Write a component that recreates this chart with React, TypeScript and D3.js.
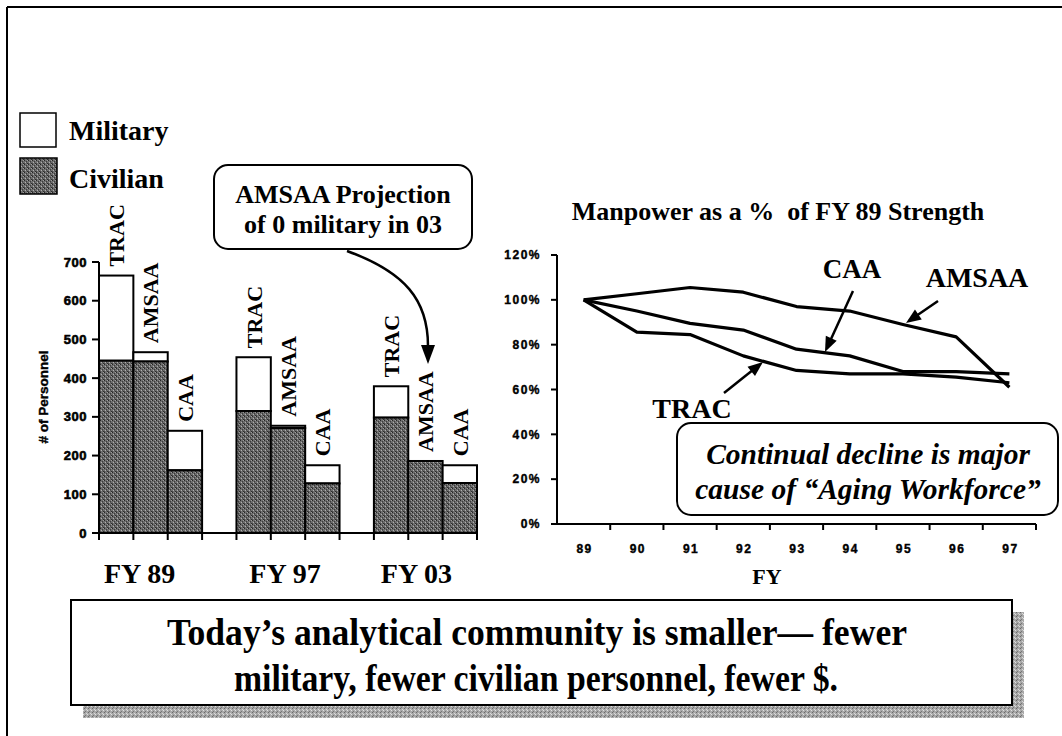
import React from "react";
import * as d3 from "d3";

// ---------- data ----------
const groups = ["FY 89", "FY 97", "FY 03"];
const orgs = ["TRAC", "AMSAA", "CAA"];
const civTRAC = [445, 315, 298];
const civAMSAA = [443, 271, 186];
const civCAA = [162, 128, 129];
const milTRAC = [220, 139, 81];
const milAMSAA = [24, 6, 0];
const milCAA = [102, 47, 46];
const personnelTicks = [0, 100, 200, 300, 400, 500, 600, 700];

const years = ["89", "90", "91", "92", "93", "94", "95", "96", "97"];
const amsaaPct = [100, 102.7, 105.5, 103.4, 97, 95, 89, 83.5, 61];
const caaPct = [100, 95, 89.5, 86.5, 78, 75, 68, 68, 67];
const tracPct = [100, 85.6, 84.5, 75, 68.5, 67, 67, 65.5, 63];
const pctTicks = [0, 20, 40, 60, 80, 100, 120];

const SERIF = "'Liberation Serif', 'Times New Roman', serif";
const SANS = "'Liberation Sans', Arial, sans-serif";

export default function App() {
  // left bar chart
  const slots = d3.range(11);
  const xb = d3.scaleBand<number>().domain(slots).range([99, 477]).padding(0);
  const yb = d3.scaleLinear().domain([0, 700]).range([533, 262]);
  const civ = [civTRAC, civAMSAA, civCAA];
  const mil = [milTRAC, milAMSAA, milCAA];
  const bars: { slot: number; c: number; m: number; org: string }[] = [];
  groups.forEach((g, gi) => {
    orgs.forEach((o, oi) => {
      bars.push({ slot: gi * 4 + oi, c: civ[oi][gi], m: mil[oi][gi], org: o });
    });
  });
  const groupLabelShift = [-11, -3, -9];

  // right line chart
  const xl = d3.scaleBand<string>().domain(years).range([557, 1036]).padding(0);
  const yl = d3.scaleLinear().domain([0, 120]).range([524, 255]);
  const line = d3
    .line<number>()
    .x((_, i) => (xl(years[i]) as number) + xl.bandwidth() / 2)
    .y((v) => yl(v))
    .curve(d3.curveLinear);

  const arrowHead = (x1: number, y1: number, x2: number, y2: number, len = 15, w = 6) => {
    const a = Math.atan2(y2 - y1, x2 - x1);
    const bx = x2 - len * Math.cos(a);
    const by = y2 - len * Math.sin(a);
    const px = -Math.sin(a) * w;
    const py = Math.cos(a) * w;
    return `M${x2},${y2}L${bx + px},${by + py}L${bx - px},${by - py}Z`;
  };
  const Arrow = ({ x1, y1, x2, y2 }: any) => (
    <g>
      <line x1={x1} y1={y1} x2={x2 - (x2 - x1) * 0.1} y2={y2 - (y2 - y1) * 0.1} stroke="#000" strokeWidth={2.5} />
      <path d={arrowHead(x1, y1, x2, y2)} fill="#000" />
    </g>
  );

  return (
    <svg
      width={1062}
      height={736}
      style={{ position: "absolute", left: 0, top: 0, background: "#fff" }}
    >
      <defs>
        <pattern id="civ" width="4" height="4" patternUnits="userSpaceOnUse">
          <rect width="4" height="4" fill="#6e6e6e" />
          <rect x="0" y="0" width="1" height="1" fill="#262626" />
          <rect x="2" y="1" width="1" height="1" fill="#3c3c3c" />
          <rect x="1" y="2" width="1" height="1" fill="#b0b0b0" />
          <rect x="3" y="3" width="1" height="1" fill="#2c2c2c" />
          <rect x="3" y="0" width="1" height="1" fill="#9c9c9c" />
          <rect x="0" y="3" width="1" height="1" fill="#4a4a4a" />
          <rect x="2" y="2" width="1" height="1" fill="#525252" />
        </pattern>
        <pattern id="shadow" width="4" height="4" patternUnits="userSpaceOnUse">
          <rect width="4" height="4" fill="#a8a8a8" />
          <rect x="0" y="0" width="1" height="1" fill="#6a6a6a" />
          <rect x="2" y="1" width="1" height="1" fill="#d8d8d8" />
          <rect x="1" y="3" width="1" height="1" fill="#777" />
          <rect x="3" y="2" width="1" height="1" fill="#e0e0e0" />
        </pattern>
      </defs>

      {/* slide frame */}
      <line x1={7} y1={7} x2={1062} y2={7} stroke="#000" strokeWidth={2} />
      <line x1={7} y1={7} x2={7} y2={736} stroke="#000" strokeWidth={2} />

      {/* legend */}
      <rect x={20} y={113} width={36} height={34} fill="#fff" stroke="#000" strokeWidth={1.5} />
      <text x={69} y={140} fontFamily={SERIF} fontWeight="bold" fontSize={28}>Military</text>
      <rect x={20} y={158} width={37} height={36} fill="url(#civ)" stroke="#000" strokeWidth={1.5} />
      <text x={69} y={188} fontFamily={SERIF} fontWeight="bold" fontSize={28}>Civilian</text>

      {/* left chart bars */}
      {bars.map((b, i) => {
        const x = xb(b.slot) as number;
        const w = xb.bandwidth();
        const yc = yb(b.c);
        const yt = yb(b.c + b.m);
        return (
          <g key={i}>
            {b.m > 0 && (
              <rect x={x} y={yt} width={w} height={yc - yt} fill="#fff" stroke="#000" strokeWidth={2} />
            )}
            <rect x={x} y={yc} width={w} height={yb(0) - yc} fill="url(#civ)" stroke="#000" strokeWidth={2} />
            <text
              transform={`translate(${x + w / 2},${yt - 9}) rotate(-90)`}
              dy="0.36em"
              fontFamily={SERIF}
              fontWeight="bold"
              fontSize={22}
            >
              {b.org}
            </text>
          </g>
        );
      })}
      {/* left axes */}
      <line x1={99} y1={262} x2={99} y2={533} stroke="#000" strokeWidth={2} />
      <line x1={99} y1={533} x2={477} y2={533} stroke="#000" strokeWidth={2} />
      {personnelTicks.map((t) => (
        <g key={t}>
          <line x1={92} x2={99} y1={yb(t)} y2={yb(t)} stroke="#000" strokeWidth={2} />
          <text x={87} y={yb(t)} dy="0.35em" textAnchor="end" fontFamily={SANS} fontWeight="bold" fontSize={13} letterSpacing={0.5} stroke="#000" strokeWidth={0.6}>
            {t}
          </text>
        </g>
      ))}
      {slots.concat([11]).map((s) => {
        const x = 99 + s * xb.bandwidth();
        return <line key={s} x1={x} x2={x} y1={533} y2={540} stroke="#000" strokeWidth={2} />;
      })}
      <text
        transform="translate(43,397) rotate(-90)"
        textAnchor="middle"
        dy="0.35em"
        fontFamily={SANS}
        fontWeight="bold"
        fontSize={13.5}
        stroke="#000"
        strokeWidth={0.4}
      >
        # of Personnel
      </text>
      {groups.map((g, gi) => {
        const cx = (xb(gi * 4) as number) + 1.5 * xb.bandwidth() + groupLabelShift[gi];
        return (
          <text key={g} x={cx} y={583} textAnchor="middle" fontFamily={SERIF} fontWeight="bold" fontSize={28}>
            {g}
          </text>
        );
      })}

      {/* callout top */}
      <rect x={214} y={165} width={258} height={84} rx={14} fill="#fff" stroke="#000" strokeWidth={2} />
      <text x={343} y={203} textAnchor="middle" fontFamily={SERIF} fontWeight="bold" fontSize={26}>AMSAA Projection</text>
      <text x={343} y={233} textAnchor="middle" fontFamily={SERIF} fontWeight="bold" fontSize={26}>of 0 military in 03</text>
      <path d="M347,251 C405,272 428,300 428,346" fill="none" stroke="#000" strokeWidth={2.5} />
      <path d="M428,364 L421,345 L435,345 Z" fill="#000" />

      {/* right chart */}
      <text x={778} y={220} textAnchor="middle" fontFamily={SERIF} fontWeight="bold" fontSize={26} style={{ whiteSpace: "pre" }}>
        Manpower as a %  of FY 89 Strength
      </text>
      <line x1={557} y1={255} x2={557} y2={524} stroke="#000" strokeWidth={2} />
      <line x1={557} y1={524} x2={1036} y2={524} stroke="#000" strokeWidth={2} />
      {pctTicks.map((t) => (
        <g key={t}>
          <line x1={551} x2={557} y1={yl(t)} y2={yl(t)} stroke="#000" strokeWidth={2} />
          <text x={541} y={yl(t)} dy="0.35em" textAnchor="end" fontFamily={SANS} fontWeight="bold" fontSize={12} letterSpacing={1.5} stroke="#000" strokeWidth={0.4}>
            {t}%
          </text>
        </g>
      ))}
      {years.map((y) => {
        const x0 = xl(y) as number;
        return (
          <g key={y}>
            <line x1={x0 + xl.bandwidth()} x2={x0 + xl.bandwidth()} y1={524} y2={530} stroke="#000" strokeWidth={2} />
            <text x={x0 + xl.bandwidth() / 2 + 1} y={553} textAnchor="middle" fontFamily={SANS} fontWeight="bold" fontSize={12} letterSpacing={1.5} stroke="#000" strokeWidth={0.4}>
              {y}
            </text>
          </g>
        );
      })}
      <text x={767} y={584} textAnchor="middle" fontFamily={SERIF} fontWeight="bold" fontSize={22}>FY</text>

      {[amsaaPct, caaPct, tracPct].map((s, i) => (
        <path key={i} d={line(s) as string} fill="none" stroke="#000" strokeWidth={3.2} strokeLinejoin="round" />
      ))}

      <text x={852} y={278} textAnchor="middle" fontFamily={SERIF} fontWeight="bold" fontSize={27}>CAA</text>
      <Arrow x1={853} y1={291} x2={825} y2={352} />
      <text x={977} y={287} textAnchor="middle" fontFamily={SERIF} fontWeight="bold" fontSize={28}>AMSAA</text>
      <Arrow x1={938} y1={301} x2={906} y2={323} />
      <text x={692} y={418} textAnchor="middle" fontFamily={SERIF} fontWeight="bold" fontSize={28}>TRAC</text>
      <Arrow x1={724} y1={393} x2={763} y2={362} />

      {/* bottom right callout */}
      <rect x={677} y={423} width={381} height={92} rx={14} fill="#fff" stroke="#000" strokeWidth={2} />
      <text x={868} y={464} textAnchor="middle" fontFamily={SERIF} fontWeight="bold" fontStyle="italic" fontSize={29.5}>
        Continual decline is major
      </text>
      <text x={868} y={499} textAnchor="middle" fontFamily={SERIF} fontWeight="bold" fontStyle="italic" fontSize={29.5}>
        cause of “Aging Workforce”
      </text>

      {/* bottom banner */}
      <rect x={83} y={612} width={941} height={106} fill="url(#shadow)" />
      <rect x={71} y={600} width={941} height={105} fill="#fff" stroke="#000" strokeWidth={2} />
      <text x={537} y={645} textAnchor="middle" fontFamily={SERIF} fontWeight="bold" fontSize={37} textLength={740} lengthAdjust="spacingAndGlyphs">
        Today’s analytical community is smaller— fewer
      </text>
      <text x={536} y={691} textAnchor="middle" fontFamily={SERIF} fontWeight="bold" fontSize={37} textLength={604} lengthAdjust="spacingAndGlyphs">
        military, fewer civilian personnel, fewer $.
      </text>
    </svg>
  );
}
